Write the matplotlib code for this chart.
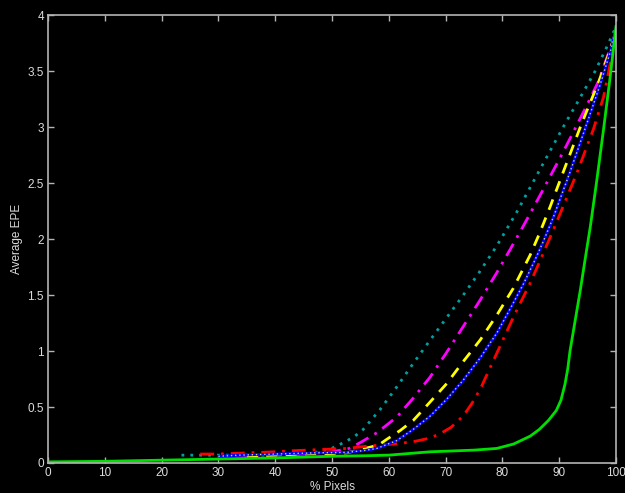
import matplotlib
matplotlib.use("Agg")
import matplotlib.pyplot as plt

plt.rcParams["font.family"] = ["Liberation Sans", "DejaVu Sans"]

# curves (x = % pixels, y = average EPE)
green_x = [0, 10, 20, 30, 40, 50, 56, 60, 67.3, 70, 75, 79, 82, 84.9, 86.5, 88.1, 89.5, 90.3, 91,
           91.5, 91.9, 92.8, 93.7, 94.5, 95.5, 96.6, 97.8, 98.9, 100]
green_y = [0.01, 0.015, 0.025, 0.035, 0.045, 0.06, 0.065, 0.07, 0.10, 0.105, 0.115, 0.13, 0.17, 0.24,
           0.30, 0.38, 0.47, 0.56, 0.70, 0.84, 1.00, 1.27, 1.54, 1.80, 2.12, 2.52, 2.98, 3.42, 3.90]

blue_x = [30, 33.8, 40, 46.7, 52.6, 55.5, 57.9, 61.4, 64.3, 67.3, 70.2, 73.1, 76.1, 79, 81.5, 83.7,
          85.7, 87.2, 89, 91.9, 94.5, 97.2, 99.2, 100]
blue_y = [0.06, 0.07, 0.08, 0.09, 0.095, 0.11, 0.13, 0.20, 0.30, 0.42, 0.57, 0.74, 0.94, 1.16, 1.39,
          1.60, 1.81, 1.98, 2.20, 2.60, 2.98, 3.38, 3.71, 3.88]

red_x = [26.8, 30, 35, 40, 43.2, 48, 52.6, 56.1, 58.5, 61, 64.3, 67, 69, 71, 73.1, 74.6, 76.1, 79,
         81.9, 84.9, 86.9, 89.6, 93.1, 96, 97.8, 98.9, 100]
red_y = [0.08, 0.08, 0.09, 0.10, 0.11, 0.12, 0.13, 0.15, 0.16, 0.17, 0.19, 0.22, 0.26, 0.32, 0.42,
         0.53, 0.66, 0.98, 1.30, 1.61, 1.84, 2.16, 2.59, 2.98, 3.27, 3.55, 3.86]

cyan_x = [23.5, 30, 35, 40, 45, 49, 50.8, 53.8, 55.5, 58.5, 61.4, 64.3, 67.3, 70.2, 73.1, 76, 79,
          82.5, 85.5, 88.4, 91, 93.4, 96.3, 98.4, 100]
cyan_y = [0.07, 0.07, 0.07, 0.07, 0.08, 0.11, 0.15, 0.23, 0.30, 0.48, 0.68, 0.89, 1.10, 1.30, 1.50,
          1.71, 1.94, 2.24, 2.52, 2.79, 3.03, 3.24, 3.50, 3.72, 3.90]

mag_x = [33, 40, 45, 50, 53, 54.9, 57.9, 61.4, 64.3, 67.3, 70.2, 73.1, 76, 79, 81.6, 83.7, 86.6,
         90.7, 93.1, 94.8, 96.9, 99.5, 100]
mag_y = [0.07, 0.07, 0.08, 0.10, 0.13, 0.18, 0.27, 0.41, 0.58, 0.77, 0.99, 1.22, 1.45, 1.70, 1.93,
         2.12, 2.39, 2.78, 3.02, 3.19, 3.41, 3.78, 3.86]

yel_x = [35, 40, 45, 50, 52.6, 55, 58.2, 59.6, 62, 64.3, 67, 70.2, 73, 76.1, 79, 81.9, 84.9, 86.6,
         88.4, 91.3, 94, 96.9, 98.9, 100]
yel_y = [0.06, 0.07, 0.08, 0.085, 0.09, 0.12, 0.16, 0.21, 0.29, 0.38, 0.53, 0.71, 0.90, 1.10, 1.32,
         1.56, 1.86, 2.06, 2.29, 2.68, 3.04, 3.40, 3.68, 3.86]

xticks = [0, 10, 20, 30, 40, 50, 60, 70, 80, 90, 100]
yticks = [0, 0.5, 1, 1.5, 2, 2.5, 3, 3.5, 4]
ytick_labels = ["0", "0.5", "1", "1.5", "2", "2.5", "3", "3.5", "4"]

fig = plt.figure(figsize=(6.25, 4.93), dpi=100, facecolor="black")
ax = fig.add_axes([0.0768, 0.0609, 0.9088, 0.9077], facecolor="black")

ax.plot(cyan_x, cyan_y, color="#00a0a0", ls=(0, (1, 2.2)), lw=2)
ax.plot(mag_x, mag_y, color="#ff00ff", ls=(0, (5, 2.5, 1, 2.5)), lw=2)
ax.plot(yel_x, yel_y, color="#ffff00", ls=(0, (4, 3)), lw=2)
ax.plot(red_x, red_y, color="#ff0000", ls=(0, (5, 2.5, 1, 2.5)), lw=2)
ax.plot(blue_x, blue_y, color="#0000ff", lw=2)
ax.plot(blue_x, blue_y, color="#c8c8c8", ls=(0, (1, 2)), lw=1)
ax.plot(green_x, green_y, color="#00e000", lw=2)

ax.set_xlim(0, 100)
ax.set_ylim(0, 4)
ax.set_xticks(xticks)
ax.set_yticks(yticks)
ax.set_yticklabels(ytick_labels)
ax.tick_params(direction="in", length=4, width=1, colors="#b4b4b4", labelcolor="#dcdcdc",
               labelsize=8.5, top=True, right=True, pad=3)
for sp in ax.spines.values():
    sp.set_color("#b4b4b4")
    sp.set_linewidth(1.2)

ax.set_xlabel("% Pixels", color="#dcdcdc", fontsize=8.5, labelpad=1)
ax.set_ylabel("Average EPE", color="#dcdcdc", fontsize=8.5, labelpad=3)

fig.savefig("out.png", dpi=100, facecolor="black")
